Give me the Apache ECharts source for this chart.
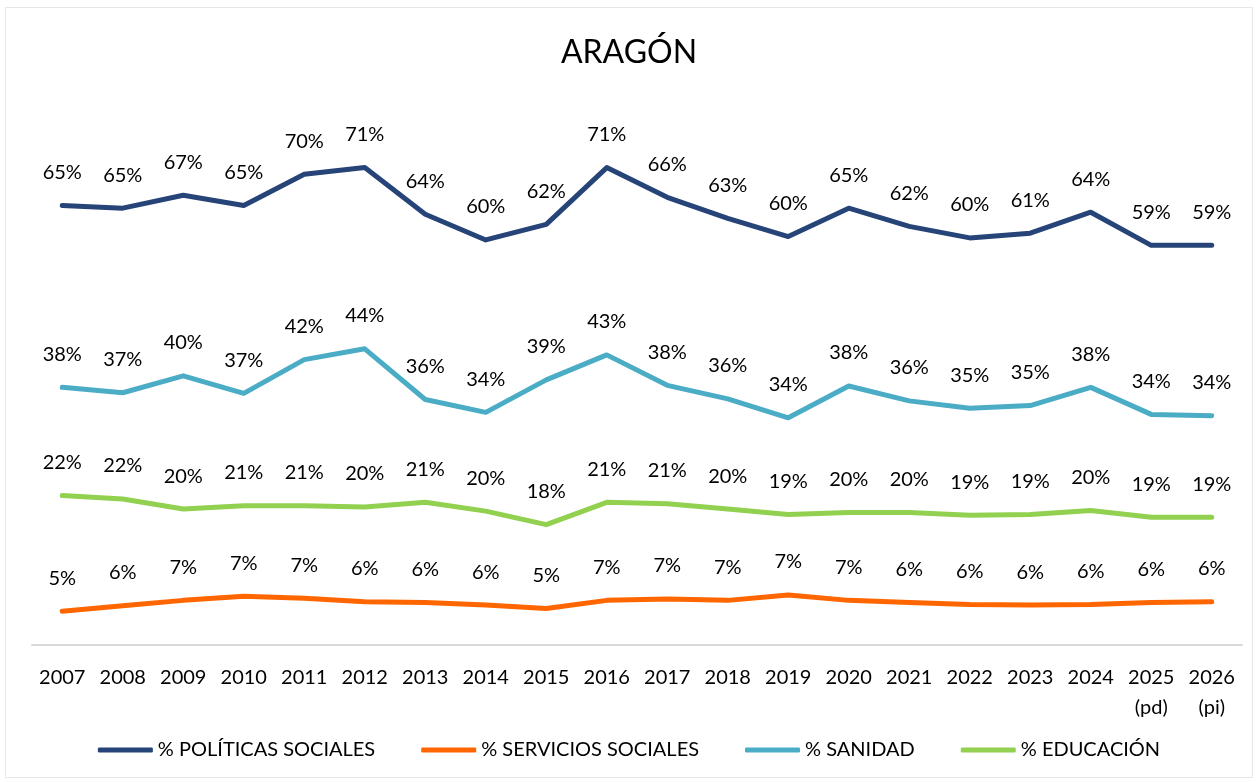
<!DOCTYPE html>
<html><head><meta charset="utf-8">
<script src="https://cdn.jsdelivr.net/npm/echarts@6/dist/echarts.min.js"></script>
<style>html,body{margin:0;padding:0;background:#fff}#c{width:1258px;height:782px}</style>
</head><body><div id="c"></div>
<script>
const categories = ['2007','2008','2009','2010','2011','2012','2013','2014','2015','2016','2017','2018','2019','2020','2021','2022','2023','2024','2025\n(pd)','2026\n(pi)'];
const politicas = [65.0,64.6,66.5,65.0,69.6,70.6,63.7,59.9,62.2,70.6,66.2,63.1,60.4,64.6,61.9,60.2,60.9,64.0,59.1,59.1];
const servicios = [5.0,5.8,6.6,7.2,6.9,6.4,6.3,5.9,5.4,6.6,6.8,6.6,7.4,6.6,6.3,6.0,5.9,6.0,6.3,6.4];
const sanidad = [38.1,37.3,39.8,37.2,42.2,43.8,36.3,34.4,39.2,42.9,38.4,36.4,33.6,38.3,36.1,35.0,35.4,38.1,34.1,33.9];
const educacion = [22.1,21.6,20.1,20.6,20.6,20.4,21.1,19.8,17.8,21.1,20.9,20.1,19.3,19.6,19.6,19.2,19.3,19.9,18.9,18.9];
const seriesNames = ['% POLÍTICAS SOCIALES','% SERVICIOS SOCIALES','% SANIDAD','% EDUCACIÓN'];
const colors = ['#264478','#FF6600','#4BACC6','#92D050'];
const FONT = 'Lato, "Open Sans", sans-serif';

const chart = echarts.init(document.getElementById('c'), null, {renderer:'canvas'});
function mk(name, data, color){
  return {
    name, type:'line', data, color,
    symbol:'circle', symbolSize:0.01, showSymbol:true, showAllSymbol:true,
    itemStyle:{color},
    lineStyle:{width:5, color, cap:'round', join:'round'},
    label:{show:true, position:'top', distance:23, fontSize:20, fontFamily:FONT, color:'#000',
      formatter:p=>Math.round(p.value)+'%'},
    labelLayout:{hideOverlap:false},
    emphasis:{disabled:true}
  };
}
chart.setOption({
  animation:false,
  backgroundColor:'#fff',
  title:{text:'ARAGÓN', left:'center', top:32, textStyle:{fontSize:32, fontWeight:'normal', fontFamily:FONT, color:'#000'}},
  legend:{bottom:17, left:'center', itemWidth:55, itemHeight:5, itemGap:46,
    icon:'roundRect',
    textStyle:{fontSize:20, fontFamily:FONT, color:'#000'},
    data:seriesNames.map((n,i)=>({name:n, itemStyle:{color:colors[i], opacity:1}}))},
  grid:{left:32, right:16, top:104, bottom:137},
  xAxis:{type:'category', data:categories, boundaryGap:true,
    axisLine:{lineStyle:{color:'#d9d9d9', width:2}}, axisTick:{show:false},
    axisLabel:{fontSize:20, fontFamily:FONT, color:'#000', margin:18, lineHeight:30, interval:0}},
  yAxis:{type:'value', min:0, max:80, show:false, splitLine:{show:false}},
  series:[mk(seriesNames[0],politicas,colors[0]), mk(seriesNames[1],servicios,colors[1]), mk(seriesNames[2],sanidad,colors[2]), mk(seriesNames[3],educacion,colors[3])],
  graphic:[{type:'rect', shape:{x:5.5,y:7.5,width:1247,height:770}, style:{fill:null, stroke:'#e6e6e6', lineWidth:1}, silent:true}]
});
</script></body></html>
